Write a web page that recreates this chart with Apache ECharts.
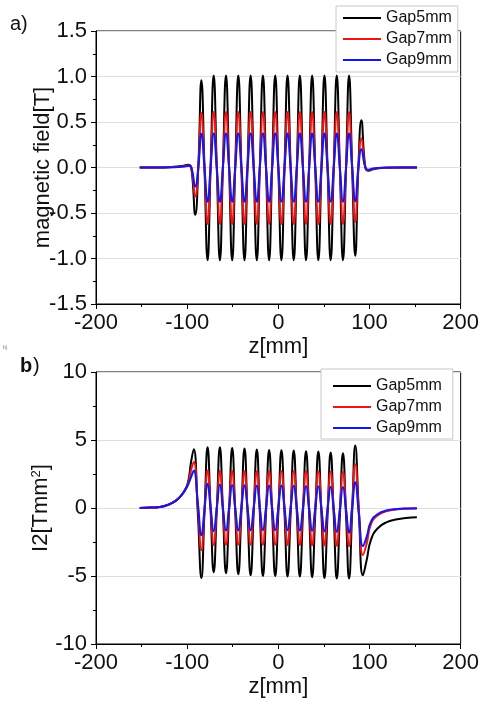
<!DOCTYPE html>
<html>
<head>
<meta charset="utf-8">
<script src="https://cdn.jsdelivr.net/npm/echarts@6/dist/echarts.min.js"></script>
<style>
  html, body { margin: 0; padding: 0; background: #fff; }
  #chart { width: 482px; height: 701px; }
</style>
</head>
<body>
<div id="chart"></div>
<script>
const seriesNames = ['Gap5mm', 'Gap7mm', 'Gap9mm'];
const lineColors = ['#000000', '#ee1515', '#1515ee'];

// x ticks (both panels)
const zTicks = [-200, -100, 0, 100, 200];
// y ticks
const bTicks = [-1.5, -1.0, -0.5, 0.0, 0.5, 1.0, 1.5];
const iTicks = [-10, -5, 0, 5, 10];

// a) magnetic field [T] vs z [mm]
const zB = [-152, -135, -120, -110, -104, -99, -95.5,
  -91.1, -87.8, -84.4, -81.0, -77.6, -74.3, -70.9, -67.5, -64.1, -60.8,
  -57.4, -54.0, -50.6, -47.3, -43.9, -40.5, -37.1, -33.8, -30.4, -27.0,
  -23.6, -20.3, -16.9, -13.5, -10.1, -6.8, -3.4, 0, 3.4, 6.8,
  10.1, 13.5, 16.9, 20.3, 23.6, 27.0, 30.4, 33.8, 37.1, 40.5,
  43.9, 47.3, 50.6, 54.0, 57.4, 60.8, 64.1, 67.5, 70.9, 74.3,
  77.6, 81.0, 84.4, 87.8, 91.1,
  95.5, 99, 104, 110, 120, 135, 152];

const bGap5 = [0, 0, 0.003, 0.01, 0.02, 0.03, 0,
  -0.52, 0, 0.96, 0,
  -1.02, 0, 1.01, 0,  -1.02, 0, 1.01, 0,  -1.02, 0, 1.01, 0,
  -1.02, 0, 1.01, 0,  -1.02, 0, 1.01, 0,  -1.02, 0, 1.01, 0,
  -1.02, 0, 1.01, 0,  -1.02, 0, 1.01, 0,  -1.02, 0, 1.01, 0,
  -1.02, 0, 1.01, 0,  -1.02, 0, 1.01, 0,  -1.02, 0, 1.01, 0,
  -0.97, 0, 0.52,
  0, -0.035, -0.02, -0.008, -0.002, 0, 0];

const bGap7 = [0, 0, 0.002, 0.007, 0.014, 0.022, 0,
  -0.32, 0, 0.60, 0,
  -0.62, 0, 0.61, 0,  -0.62, 0, 0.61, 0,  -0.62, 0, 0.61, 0,
  -0.62, 0, 0.61, 0,  -0.62, 0, 0.61, 0,  -0.62, 0, 0.61, 0,
  -0.62, 0, 0.61, 0,  -0.62, 0, 0.61, 0,  -0.62, 0, 0.61, 0,
  -0.62, 0, 0.61, 0,  -0.62, 0, 0.61, 0,  -0.62, 0, 0.61, 0,
  -0.60, 0, 0.32,
  0, -0.03, -0.016, -0.006, -0.002, 0, 0];

const bGap9 = [0, 0, 0.002, 0.005, 0.01, 0.018, 0,
  -0.21, 0, 0.37, 0,
  -0.375, 0, 0.375, 0,  -0.375, 0, 0.375, 0,  -0.375, 0, 0.375, 0,
  -0.375, 0, 0.375, 0,  -0.375, 0, 0.375, 0,  -0.375, 0, 0.375, 0,
  -0.375, 0, 0.375, 0,  -0.375, 0, 0.375, 0,  -0.375, 0, 0.375, 0,
  -0.375, 0, 0.375, 0,  -0.375, 0, 0.375, 0,  -0.375, 0, 0.375, 0,
  -0.37, 0, 0.20,
  0, -0.025, -0.012, -0.005, -0.001, 0, 0];

// b) I2 [Tmm^2] vs z [mm]
const zI = [-152, -140, -130, -120, -112, -105, -99.4, -95.7,
  -92.8, -88.3, -84.4, -81.0, -77.6, -74.3, -70.9, -67.5, -64.1, -60.8,
  -57.4, -54.0, -50.6, -47.3, -43.9, -40.5, -37.1, -33.8, -30.4, -27.0,
  -23.6, -20.3, -16.9, -13.5, -10.1, -6.8, -3.4, 0, 3.4, 6.8,
  10.1, 13.5, 16.9, 20.3, 23.6, 27.0, 30.4, 33.8, 37.1, 40.5,
  43.9, 47.3, 50.6, 54.0, 57.4, 60.8, 64.1, 67.5, 70.9, 74.3,
  77.6, 81.0, 84.4, 88.3, 92.8,
  97, 101.5, 108.8, 119.6, 130.5, 140, 152];

const iGap5 = [0, 0.03, 0.08, 0.26, 0.56, 1.05, 1.8, 3.4,
  4.32, -0.39, -5.15, -0.32,
  4.46, -0.14, -4.73, -0.14,
  4.46, -0.17, -4.80, -0.20,
  4.41, -0.23, -4.87, -0.25,
  4.37, -0.29, -4.95, -0.33,
  4.30, -0.35, -5.00, -0.37,
  4.27, -0.37, -5.00, -0.38,
  4.24, -0.40, -5.04, -0.41,
  4.22, -0.41, -5.04, -0.43,
  4.18, -0.46, -5.09, -0.47,
  4.15, -0.50, -5.14, -0.53,
  4.08, -0.56, -5.19, -0.59,
  4.02, -0.59, -5.19, -0.30,
  4.59, -0.18, -4.95,
  -3.8, -2.36, -1.51, -1.02, -0.83, -0.74, -0.68];

const iGap7 = [0, 0.03, 0.08, 0.26, 0.56, 1.05, 1.72, 2.8,
  3.38, 0.14, -3.10, -0.17,
  2.76, 0.02, -2.72, 0,
  2.72, 0, -2.70, 0,
  2.72, 0, -2.70, 0,
  2.70, 0, -2.70, 0,
  2.70, 0, -2.70, 0,
  2.70, 0, -2.70, 0,
  2.70, 0, -2.72, 0,
  2.70, 0, -2.72, 0,
  2.70, -0.01, -2.74, -0.02,
  2.68, -0.03, -2.75, -0.04,
  2.66, -0.05, -2.78, -0.06,
  2.64, -0.07, -2.80, 0.21,
  3.22, -0.12, -3.46,
  -2.6, -1.2, -0.55, -0.22, -0.1, -0.05, -0.03];

const iGap9 = [0, 0.03, 0.07, 0.27, 0.56, 1.05, 1.66, 2.27,
  2.76, 0.38, -2.00, -0.11,
  1.78, 0.04, -1.70, 0.01,
  1.72, 0.02, -1.66, 0.02,
  1.70, 0.02, -1.65, 0.02,
  1.68, 0.02, -1.64, 0.02,
  1.66, 0.01, -1.63, 0.01,
  1.66, 0.01, -1.63, 0.01,
  1.65, 0, -1.64, 0,
  1.64, -0.01, -1.66, -0.02,
  1.62, -0.03, -1.68, -0.04,
  1.60, -0.06, -1.72, -0.08,
  1.56, -0.10, -1.76, -0.13,
  1.55, -0.14, -1.82, 0.04,
  1.90, -0.45, -2.80,
  -2.1, -1.02, -0.46, -0.17, -0.07, -0.03, -0.01];

const FONT = '"Liberation Sans", Arial, Helvetica, sans-serif';
const chart = echarts.init(document.getElementById('chart'));

const pair = (xs, ys) => xs.map((x, i) => [x, ys[i]]);

const xAxisCommon = (gridIndex) => ({
  gridIndex: gridIndex,
  type: 'value',
  min: zTicks[0],
  max: zTicks[zTicks.length - 1],
  interval: 100,
  name: 'z[mm]',
  nameLocation: 'middle',
  nameGap: 32,
  nameTextStyle: { fontSize: 22, color: '#111', fontFamily: FONT },
  axisLine: { show: true, onZero: false, lineStyle: { color: '#000', width: 1 } },
  axisTick: { show: true, inside: false, length: 5, lineStyle: { color: '#000' } },
  minorTick: { show: true, splitNumber: 2, length: 3, lineStyle: { color: '#000' } },
  axisLabel: { fontSize: 22, color: '#111', fontFamily: FONT, margin: 8 },
  splitLine: { show: false }
});

const yAxisCommon = (gridIndex, ticks, interval, nameObj, fmt, gap) => Object.assign({
  gridIndex: gridIndex,
  type: 'value',
  min: ticks[0],
  max: ticks[ticks.length - 1],
  interval: interval,
  nameLocation: 'middle',
  nameGap: gap,
  nameMoveOverlap: false,
  axisLine: { show: true, onZero: false, lineStyle: { color: '#000', width: 1 } },
  axisTick: { show: true, inside: false, length: 5, lineStyle: { color: '#000' } },
  minorTick: { show: true, splitNumber: 2, length: 3, lineStyle: { color: '#000' } },
  axisLabel: { fontSize: 22, color: '#111', fontFamily: FONT, margin: 9, formatter: fmt },
  splitLine: { show: true, lineStyle: { color: '#dedede', width: 1 } }
}, nameObj);

const legendCommon = {
  orient: 'vertical',
  data: seriesNames,
  icon: 'path://M0,0 L38,0 L38,2 L0,2 Z',
  itemWidth: 38,
  itemHeight: 16,
  itemGap: 5,
  selectedMode: false,
  backgroundColor: '#fff',
  borderColor: '#c8c8c8',
  borderWidth: 1,
  borderRadius: 0,
  textStyle: { fontSize: 16, color: '#111', fontFamily: FONT }
};

const makeSeries = (name, color, data, gi) => ({
  name: name,
  type: 'line',
  xAxisIndex: gi,
  yAxisIndex: gi,
  data: data,
  smooth: true,
  symbol: 'none',
  lineStyle: { color: color, width: 2 },
  itemStyle: { color: color },
  clip: true
});

chart.setOption({
  animation: false,
  backgroundColor: '#fff',
  grid: [
    { left: 96, right: 18, top: 31, height: 273, show: true, borderColor: '#000', borderWidth: 1 },
    { left: 96, right: 18, top: 372, height: 272, show: true, borderColor: '#000', borderWidth: 1 }
  ],
  legend: [
    Object.assign({}, legendCommon, { left: 336, top: 6, padding: [4, 6, 4, 7] }),
    Object.assign({}, legendCommon, { left: 321, top: 369, padding: [9, 11, 3, 12] })
  ],
  xAxis: [xAxisCommon(0), xAxisCommon(1)],
  yAxis: [
    yAxisCommon(0, bTicks, 0.5, {
      name: 'magnetic field[T]',
      nameTextStyle: { fontSize: 22, color: '#111', fontFamily: FONT }
    }, (v) => v.toFixed(1), 42),
    yAxisCommon(1, iTicks, 5, {
      name: 'I2[Tmm{sup|2}]',
      nameTextStyle: {
        fontSize: 22, color: '#111', fontFamily: FONT,
        rich: { sup: { fontSize: 13, color: '#111', fontFamily: FONT, verticalAlign: 'top', lineHeight: 22 } }
      }
    }, (v) => String(v), 44)
  ],
  series: [
    makeSeries(seriesNames[0], lineColors[0], pair(zB, bGap5), 0),
    makeSeries(seriesNames[1], lineColors[1], pair(zB, bGap7), 0),
    makeSeries(seriesNames[2], lineColors[2], pair(zB, bGap9), 0),
    makeSeries(seriesNames[0], lineColors[0], pair(zI, iGap5), 1),
    makeSeries(seriesNames[1], lineColors[1], pair(zI, iGap7), 1),
    makeSeries(seriesNames[2], lineColors[2], pair(zI, iGap9), 1)
  ],
  graphic: [
    { type: 'text', left: 10, top: 14, style: { text: 'a)', font: '20px ' + FONT, fill: '#111' } },
    { type: 'text', left: 20, top: 356, style: { text: 'b', font: 'bold 20px ' + FONT, fill: '#111' } },
    { type: 'text', left: 33, top: 356, style: { text: ')', font: '20px ' + FONT, fill: '#111' } },
    { type: 'text', left: 3, top: 345, style: { text: 'b)', font: '5px ' + FONT, fill: '#777' } }
  ]
});
</script>
</body>
</html>
